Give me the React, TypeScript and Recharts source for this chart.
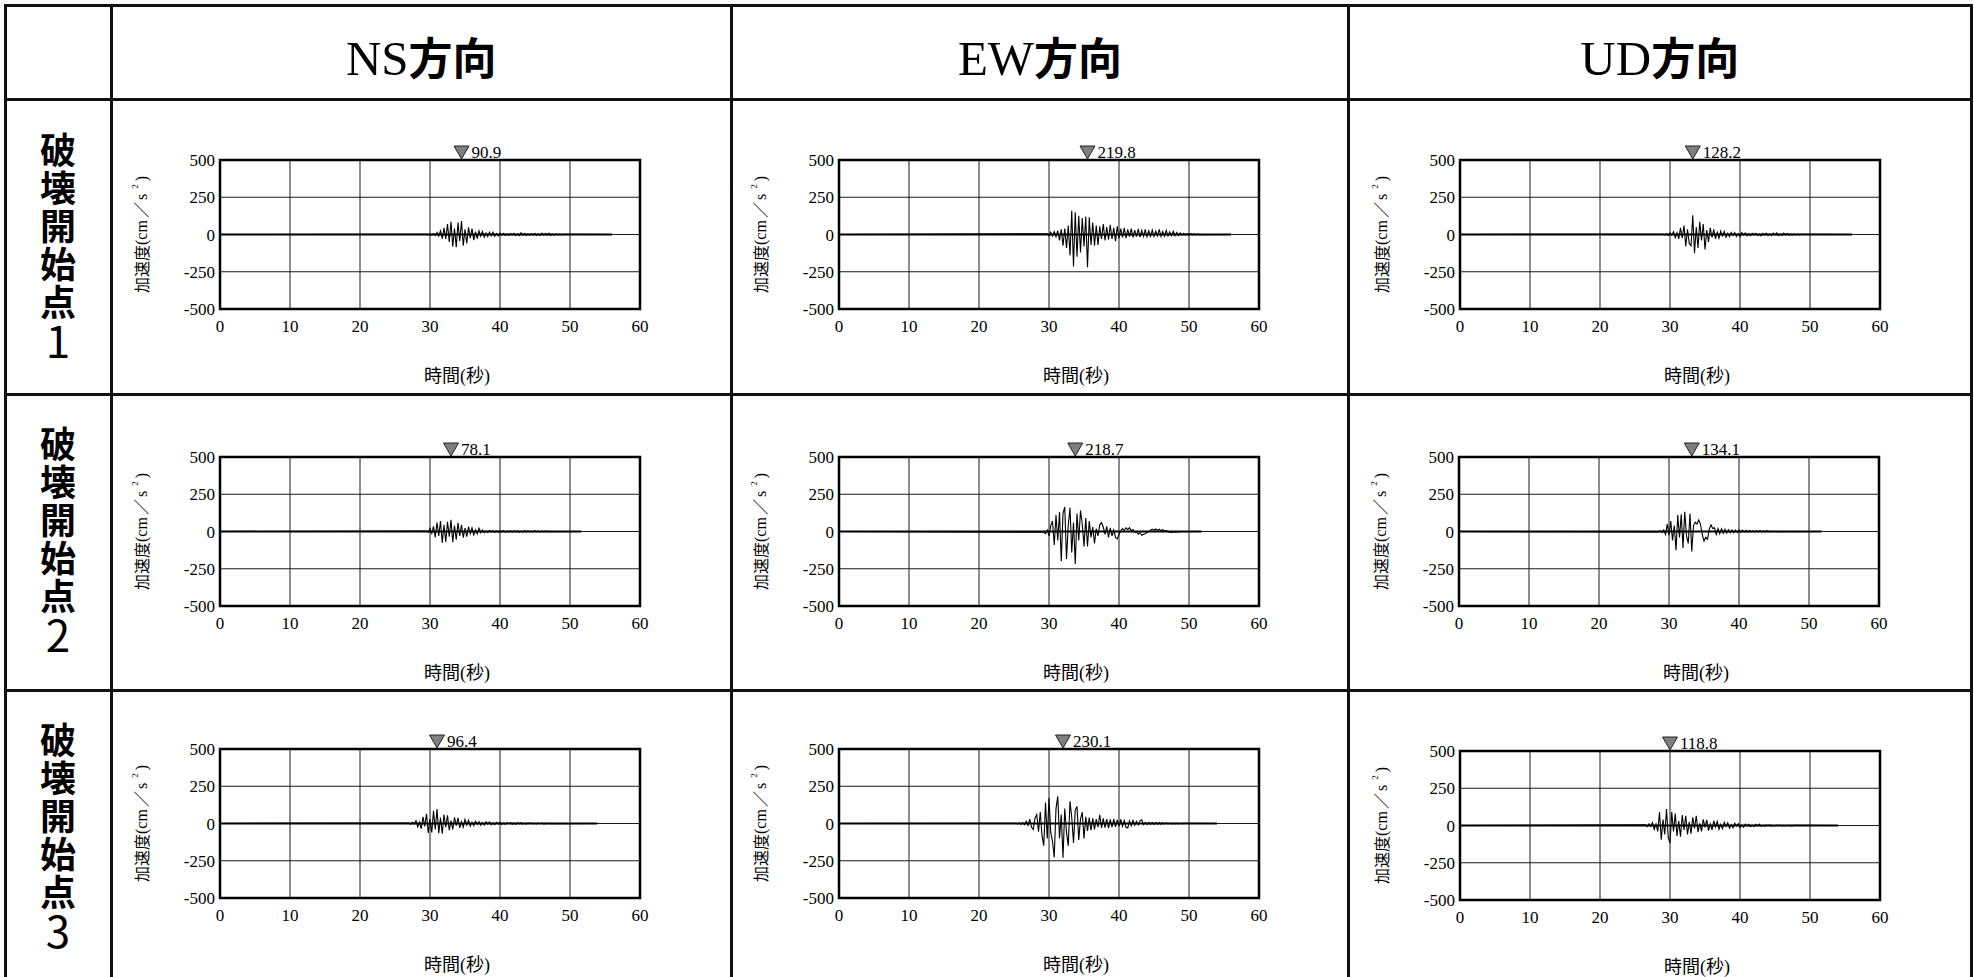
import React from "react";
import {
  LineChart,
  Line,
  XAxis,
  YAxis,
  CartesianGrid,
  ReferenceArea,
  ReferenceDot,
  ReferenceLine,
} from "recharts";

// sampling interval of the digitised records (s)
const DT = 0.25;

const X_TICKS = [0, 10, 20, 30, 40, 50, 60];
const Y_TICKS = [-500, -250, 0, 250, 500];
const DIRECTIONS = ["NS", "EW", "UD"];
const ROW_NAME = "破壊開始点";
const ROW_NUMBERS = ["1", "2", "3"];

// 破壊開始点1
const NS1_START = 29.5;
const NS1_END = 56;
const NS1_ACC = [
  2, -3, 4, -5, 6, -7, 14, -10, 25, -28, 45, -30, 70, -50, 85, -82, 40, -85,
  80, -45, 90.9, -75, 35, -60, 48, -25, 40, -38, 20, -28, 25, -12, 20, -18, 10,
  -15, 14, -8, 15, -12, 7, -10, 9, -5, 8, -7, 4, -6, 7, -4, 8, -7, 5, -8, 12,
  -6, 8, -7, 4, -5, 5, -3, 7, -6, 4, -7, 9, -5, 8, -4, 9, -7, 3, -5, 4, -2, 3,
  -2, 2, -1, 1,
];
const EW1_START = 29.75;
const EW1_END = 56;
const EW1_ACC = [
  5, -8, 15, -10, 20, -15, 25, -40, 35, -75, 40, -90, 60, -140, 160, -215, 150,
  -150, 125, -120, 110, -80, 120, -219.8, 115, -70, 80, -75, 60, -70, 55, -30,
  70, -40, 50, -35, 65, -30, 45, -45, 55, -25, 40, -20, 45, -25, 35, -15, 40,
  -20, 30, -15, 38, -18, 28, -12, 35, -15, 25, -12, 30, -12, 22, -10, 35, -12,
  20, -10, 28, -10, 18, -8, 22, -8, 14, -6, 10, -5, 8, -4, 6, -3, 5, -2, 4, -2,
  3, -1,
];
const UD1_START = 29.0;
const UD1_END = 56;
const UD1_ACC = [
  2, -3, 5, -6, 10, -5, 18, -20, 12, -30, 45, -25, 60, -80, 35, -60, -75,
  128.2, -125, 50, -90, 85, -40, 70, -100, 30, -50, 45, -20, 35, -30, 15, -25,
  22, -10, 20, -18, 8, -15, 14, -6, 12, -14, 5, -15, 12, -4, 10, -9, 4, -8, 8,
  -3, 8, -7, 3, -9, 8, -4, 9, -8, 5, -8, 9, -3, 10, -8, 4, -7, 9, -3, 7, -5, 3,
  -4, 4, -2, 3, -2, 2,
];

// 破壊開始点2
const NS2_START = 29.5;
const NS2_END = 51.6;
const NS2_ACC = [
  3, -5, 20, -12, 35, -40, 60, -30, 70, -76, 45, -70, 65, -35, 78.1, -72, 40,
  -55, 58, -30, 45, -42, 22, -35, 32, -15, 25, -22, 12, -16, 22, -8, 10, -8, 4,
  -6, 6, -3, 5, -6, 3, -5, 4, -2, 5, -4, 2, -4, 5, -3, 4, -2, 4, -5, 3, -4, 5,
  -2, 4, -3, 2, -3, 5, -2, 3, -3, 2, -3, 2, -1, 1, -1,
];
const EW2_START = 29.25;
const EW2_END = 51.8;
const EW2_ACC = [
  -5, -15, 10, -30, 40, 70, -90, 110, -60, 130, -200, 120, 165, -185, 40, 160,
  -140, 60, -218.7, 120, -60, 140, 50, -100, 90, -100, 70, -40, 30, -80, 20,
  -30, 45, 60, 30, -20, 35, -40, 25, -30, 10, -40, -50, -20, 5, 20, 8, 25, 12,
  26, 6, 14, -6, -2, -18, -8, -25, -18, -15, -6, 0, 8, 16, 8, 17, 7, 15, 6, 12,
  2, 7, -3, -3, -7, -2, -6, -1, -3, -1,
];
const UD2_START = 28.5;
const UD2_END = 51.8;
const UD2_ACC = [
  -3, 4, -8, 10, -20, 50, -25, 70, -60, 40, -126, 110, -40, 115, -110, 133,
  -30, -80, 120, -134.1, 40, 62, 50, 77, 48, -20, -65, -38, -52, 15, 45, 20, 25,
  -20, 20, -15, 18, -12, 15, -10, 12, -8, 10, -8, 9, -7, 10, -6, 9, -5, 8, -5,
  7, -4, 6, -4, 5, -3, 5, -3, 4, -2, 5, -2, 3, -2, 2, -1,
];

// 破壊開始点3
const NS3_START = 27.0;
const NS3_END = 53.9;
const NS3_ACC = [
  3, -5, 8, -4, 18, -22, 10, -35, 45, -20, 65, -63, 30, -60, 85, -40, 96.4,
  -65, 40, -68, 60, -25, 55, -45, 20, -40, 42, -15, 38, -30, 12, -25, 28, -10,
  22, -18, 8, -15, 15, -6, 13, -12, 5, -10, 11, -4, 10, -9, 3, -8, 8, -3, 8,
  -6, 2, -6, 6, -2, 6, -5, 2, -5, 5, -2, 6, -4, 1, -4, 4, -1, 4, -3, 1, -3, 3,
  -1, 3, -2, 1, -2, 2, -1,
];
const EW3_START = 25.25;
const EW3_END = 54.0;
const EW3_ACC = [
  2, -3, 4, -5, 5, -8, 15, -12, 30, -25, -40, 35, 60, -55, 77, -80, -149, 140,
  -100, 171, -60, -120, -227, 100, 182, -100, 60, -230.1, 100, -60, -150, 149,
  40, -130, 90, 115, -110, 30, 77, -100, 45, -50, 40, -45, 35, -40, 30, -25, 58,
  -30, 35, -28, 30, -32, 28, -25, 30, -22, 25, -20, 28, -18, 20, -25, -30, 18,
  -15, 20, -12, 15, -10, 18, 25, -8, 8, -7, 8, -6, 7, -6, 6, -5, 6, -5, 5, -4,
  4, -3, 3, -2, 2, -2, 2, -2, 2, -1, 1,
];
const UD3_START = 26.5;
const UD3_END = 54.0;
const UD3_ACC = [
  5, -8, 12, -6, 20, -25, 10, -40, 90, -95, 40, -60, 110, -80, -118.8, 90, -40,
  80, -70, 30, -75, 70, -30, 65, -60, 25, -55, 55, -20, 65, -45, 15, -40, 42,
  -12, 38, -35, 10, -30, 32, -10, 28, -25, 8, -22, 22, -6, 18, -18, 5, -15, 15,
  -4, 12, -15, 3, -12, 9, -3, 8, -8, 2, -7, 8, -2, 10, -5, 1, -5, 4, -1, 4, -4,
  1, -3, 3, -1, 3, -2, 1, -2, 2, -1, 1, -1, 1,
];

const RECORDS = [
  [
    { start: NS1_START, end: NS1_END, acc: NS1_ACC },
    { start: EW1_START, end: EW1_END, acc: EW1_ACC },
    { start: UD1_START, end: UD1_END, acc: UD1_ACC },
  ],
  [
    { start: NS2_START, end: NS2_END, acc: NS2_ACC },
    { start: EW2_START, end: EW2_END, acc: EW2_ACC },
    { start: UD2_START, end: UD2_END, acc: UD2_ACC },
  ],
  [
    { start: NS3_START, end: NS3_END, acc: NS3_ACC },
    { start: EW3_START, end: EW3_END, acc: EW3_ACC },
    { start: UD3_START, end: UD3_END, acc: UD3_ACC },
  ],
];

// page layout (pixels)
const COL_LINES = [5, 111, 731.5, 1348.5, 1971];
const ROW_LINES = [5, 99.5, 394, 690];
const PLOT_LEFT = [
  [220, 838.5, 1460],
  [220, 838.5, 1459],
  [220, 838.5, 1460],
];
const PLOT_TOP = [
  [160, 160, 160],
  [456.5, 456.5, 456.5],
  [748.5, 748.5, 751],
];
const PLOT_W = 420;
const PLOT_H = 149;
const M_TOP = 40;
const Y_AXIS_W = 110;
const X_AXIS_H = 90;
const M_RIGHT = 30;

const SERIF = '"Liberation Serif", "Noto Sans CJK JP", serif';
const GOTHIC = '"Noto Sans CJK JP", sans-serif';

type Rec = { start: number; end: number; acc: number[] };

function toPoints(rec: Rec) {
  const pts = [{ t: 0, a: 0 }];
  rec.acc.forEach((a, i) => pts.push({ t: rec.start + i * DT, a }));
  pts.push({ t: rec.end, a: 0 });
  return pts;
}

const XLabel = (props: any) => {
  const vb = props.viewBox;
  return (
    <text
      x={vb.x + 237}
      y={vb.y + 67}
      textAnchor="middle"
      dominantBaseline="central"
      fontFamily={SERIF}
      fontSize={18}
      fill="#000"
    >
      時間(秒)
    </text>
  );
};

const YLabel = (props: any) => {
  const vb = props.viewBox;
  const x = vb.x + vb.width - 79;
  const y = vb.y + vb.height / 2;
  return (
    <text
      x={x}
      y={y}
      transform={`rotate(-90 ${x} ${y})`}
      textAnchor="middle"
      dominantBaseline="central"
      fontFamily={SERIF}
      fontSize={16}
      fill="#000"
    >
      <tspan fontFamily={GOTHIC}>加速度</tspan>
      <tspan>(cm</tspan>
      <tspan dx={2}>／</tspan>
      <tspan dx={2}>s</tspan>
      <tspan fontSize={9} dx={5} dy={-6}>
        2
      </tspan>
      <tspan dy={6} dx={3}>)</tspan>
    </text>
  );
};

const makeMarker = (value: string) => (props: any) => {
  const { cx, cy } = props;
  return (
    <g>
      <path
        d={`M${cx - 7.5},${cy - 14} L${cx + 7.5},${cy - 14} L${cx},${cy - 1} Z`}
        fill="#7f7f7f"
        stroke="#222"
        strokeWidth={1}
      />
      <text x={cx + 10} y={cy - 2} fontFamily={SERIF} fontSize={17} fill="#000">
        {value}
      </text>
    </g>
  );
};

const Wave = ({ rec, left, top }: { rec: Rec; left: number; top: number }) => {
  const data = toPoints(rec);
  let pk = 0;
  rec.acc.forEach((a, i) => {
    if (Math.abs(a) > Math.abs(rec.acc[pk])) pk = i;
  });
  const peakT = rec.start + pk * DT;
  const peakLabel = Math.abs(rec.acc[pk]).toFixed(1);
  return (
    <div style={{ position: "absolute", left: left - Y_AXIS_W, top: top - M_TOP }}>
      <LineChart
        width={Y_AXIS_W + PLOT_W + M_RIGHT}
        height={M_TOP + PLOT_H + X_AXIS_H}
        data={data}
        margin={{ top: M_TOP, right: M_RIGHT, bottom: 0, left: 0 }}
      >
        <CartesianGrid stroke="#1a1a1a" strokeWidth={1} />
        <XAxis
          dataKey="t"
          type="number"
          domain={[0, 60]}
          ticks={X_TICKS}
          interval={0}
          allowDataOverflow
          tickLine={false}
          axisLine={false}
          tickSize={0}
          tickMargin={11}
          height={X_AXIS_H}
          tick={{ fontFamily: SERIF, fontSize: 17, fill: "#000" }}
          label={<XLabel />}
        />
        <YAxis
          type="number"
          domain={[-500, 500]}
          ticks={Y_TICKS}
          interval={0}
          allowDataOverflow
          tickLine={false}
          axisLine={false}
          tickSize={0}
          tickMargin={5}
          width={Y_AXIS_W}
          tick={{ fontFamily: SERIF, fontSize: 17, fill: "#000" }}
          label={<YLabel />}
        />
        <ReferenceLine
          segment={[
            { x: 0, y: 0 },
            { x: rec.end, y: 0 },
          ]}
          stroke="#000"
          strokeWidth={2}
        />
        <Line
          type="linear"
          dataKey="a"
          stroke="#000"
          strokeWidth={1.1}
          dot={false}
          isAnimationActive={false}
        />
        <ReferenceArea
          x1={0}
          x2={60}
          y1={-500}
          y2={500}
          fill="none"
          stroke="#000"
          strokeWidth={2.5}
          ifOverflow="visible"
        />
        <ReferenceDot
          x={peakT}
          y={500}
          r={0}
          ifOverflow="visible"
          shape={makeMarker(peakLabel)}
        />
      </LineChart>
    </div>
  );
};

export default function App() {
  return (
    <div
      style={{
        position: "absolute",
        left: 0,
        top: 0,
        width: 1974,
        height: 977,
        overflow: "hidden",
        background: "#fff",
      }}
    >
      {ROW_LINES.map((y, i) => (
        <div
          key={`h${i}`}
          style={{
            position: "absolute",
            left: 3.5,
            top: y - 1.5,
            width: 1969,
            height: 3,
            background: "#111",
          }}
        />
      ))}
      {COL_LINES.map((x, i) => (
        <div
          key={`v${i}`}
          style={{
            position: "absolute",
            left: x - 1.5,
            top: 3.5,
            width: 3,
            height: 980,
            background: "#111",
          }}
        />
      ))}
      {DIRECTIONS.map((d, i) => (
        <div
          key={d}
          style={{
            position: "absolute",
            left: COL_LINES[i + 1],
            width: COL_LINES[i + 2] - COL_LINES[i + 1],
            top: 30,
            height: 52,
            lineHeight: "52px",
            textAlign: "center",
            whiteSpace: "nowrap",
            color: "#000",
          }}
        >
          <span style={{ fontFamily: SERIF, fontSize: 49 }}>{d}</span>
          <span style={{ fontFamily: GOTHIC, fontSize: 44, fontWeight: 700 }}>方向</span>
        </div>
      ))}
      {ROW_NUMBERS.map((n, r) => (
        <div
          key={n}
          style={{
            position: "absolute",
            left: (COL_LINES[0] + COL_LINES[1]) / 2 - 24,
            width: 48,
            top: ROW_LINES[r + 1] + 32,
            writingMode: "vertical-rl",
            textOrientation: "upright",
            lineHeight: "48px",
            fontFamily: GOTHIC,
            fontSize: 36,
            fontWeight: 700,
            letterSpacing: 2,
            color: "#000",
            whiteSpace: "nowrap",
          }}
        >
          {ROW_NAME}
          <span style={{ fontSize: 44, fontWeight: 400, letterSpacing: 0, marginTop: -3 }}>
            {n}
          </span>
        </div>
      ))}
      {RECORDS.map((row, r) =>
        row.map((rec, c) => (
          <Wave key={`${r}-${c}`} rec={rec} left={PLOT_LEFT[r][c]} top={PLOT_TOP[r][c]} />
        ))
      )}
    </div>
  );
}
